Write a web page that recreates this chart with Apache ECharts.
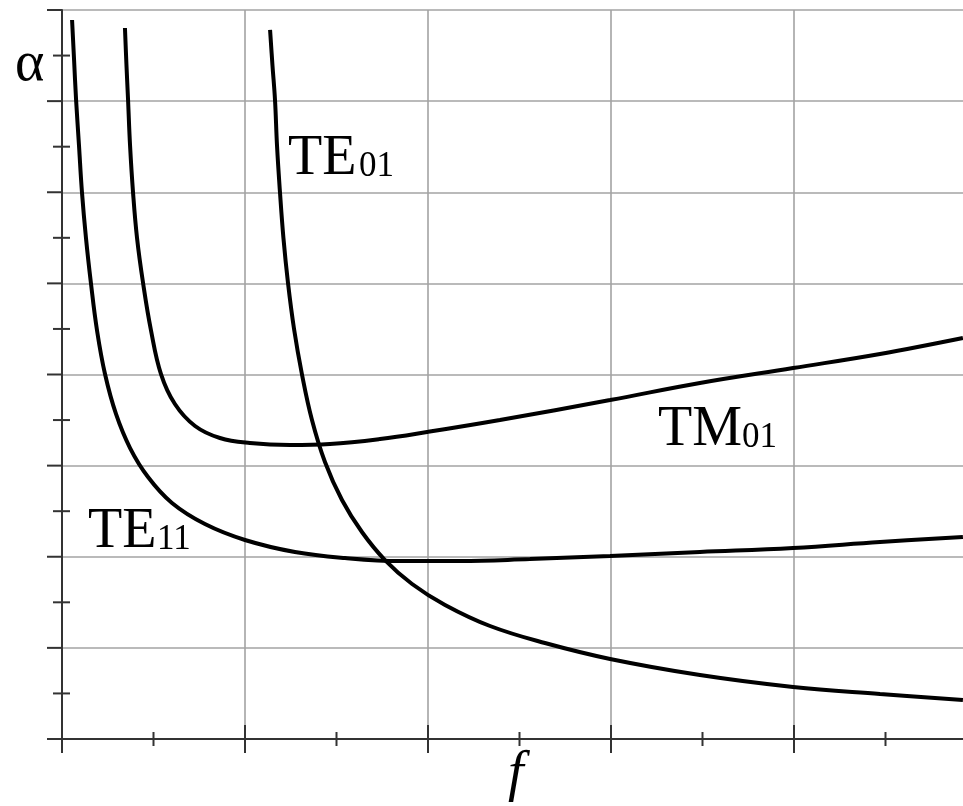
<!DOCTYPE html>
<html>
<head>
<meta charset="utf-8">
<script src="https://cdn.jsdelivr.net/npm/echarts@6/dist/echarts.min.js"></script>
<style>
html,body{margin:0;padding:0;background:#fff;overflow:hidden;}
#chart{width:977px;height:806px;}
</style>
</head>
<body>
<div id="chart"></div>
<script>
// ---- data (f and alpha in grid units) ----
const te11F = [0.055, 0.066, 0.077, 0.093, 0.109, 0.131, 0.158, 0.191, 0.235, 0.295, 0.372, 0.470, 0.601, 0.781, 1.000, 1.273, 1.546, 1.847, 2.175, 2.557, 2.995, 3.486, 3.995, 4.470, 4.923];
const te11A = [7.890, 7.451, 7.012, 6.508, 6.003, 5.498, 5.004, 4.488, 4.005, 3.567, 3.193, 2.875, 2.590, 2.359, 2.184, 2.052, 1.986, 1.953, 1.953, 1.975, 2.008, 2.052, 2.096, 2.162, 2.217];

const tm01F = [0.344, 0.352, 0.361, 0.372, 0.388, 0.410, 0.443, 0.486, 0.541, 0.617, 0.727, 0.863, 1.027, 1.246, 1.464, 1.738, 1.995, 2.393, 2.995, 3.486, 3.995, 4.470, 4.923];
const tm01A = [7.802, 7.407, 7.012, 6.508, 6.003, 5.498, 5.004, 4.488, 4.005, 3.676, 3.435, 3.303, 3.248, 3.226, 3.237, 3.292, 3.369, 3.501, 3.720, 3.907, 4.071, 4.225, 4.400];

const te01F = [1.137, 1.150, 1.164, 1.175, 1.191, 1.210, 1.235, 1.268, 1.311, 1.366, 1.437, 1.530, 1.639, 1.765, 1.913, 2.093, 2.339, 2.639, 2.995, 3.486, 3.995, 4.470, 4.923];
const te01A = [7.781, 7.396, 7.012, 6.508, 6.003, 5.498, 5.004, 4.499, 4.005, 3.501, 3.040, 2.623, 2.272, 1.964, 1.701, 1.471, 1.240, 1.053, 0.878, 0.702, 0.571, 0.494, 0.428];

// tick positions
const fMajorTicks = [0, 1, 2, 3, 4, 5];
const fMinorTicks = [0.5, 1.5, 2.5, 3.5, 4.5];
const aMajorTicks = [0, 1, 2, 3, 4, 5, 6, 7, 8];
const aMinorTicks = [0.5, 1.5, 2.5, 3.5, 4.5, 5.5, 6.5, 7.5];

const fMin = 0, fMax = 5, fStep = 1;
const aMin = 0, aMax = 8, aStep = 1;

const zip = (xs, ys) => xs.map((x, i) => [x, ys[i]]);

const serif = '"Liberation Serif", "DejaVu Serif", serif';
const gridColor = '#a3a3a3';
const axisColor = '#333';

const chart = echarts.init(document.getElementById('chart'), null, {renderer: 'canvas'});

function curve(name, data) {
  return {name, type: 'line', data, xAxisIndex: 0, yAxisIndex: 0, showSymbol: false, symbol: 'none', smooth: 0.4,
    lineStyle: {color: '#000', width: 4}, silent: true, z: 5};
}

// tick marks drawn through the axis scales; "before"/"after" = pixel extent on each side of the axis line
function ticks(values, isX, before, after) {
  return {
    type: 'custom', coordinateSystem: 'cartesian2d', xAxisIndex: 0, yAxisIndex: 0,
    clip: false, silent: true, z: 4,
    data: values.map(v => isX ? [v, aMin] : [fMin, v]),
    renderItem(params, api) {
      const p = api.coord([api.value(0), api.value(1)]);
      const shape = isX
        ? {x1: p[0], y1: p[1] - before, x2: p[0], y2: p[1] + after}
        : {x1: p[0] - before, y1: p[1], x2: p[0] + after, y2: p[1]};
      return {type: 'line', shape, style: {stroke: axisColor, lineWidth: 2}};
    }
  };
}

function txt(text, x, baseline, size, italic) {
  return {type: 'text', left: x, top: baseline - size * 0.81, z: 10,
    style: {text, fontFamily: serif, fontSize: size, fontStyle: italic ? 'italic' : 'normal', fill: '#000'}};
}
const lineStyleAxis = {color: axisColor, width: 2};

chart.setOption({
  animation: false,
  backgroundColor: '#fff',
  grid: [{left: 62, top: 10, right: 0, bottom: 67, containLabel: false}],
  xAxis: [{
    type: 'value', min: fMin, max: fMax, interval: fStep, position: 'bottom',
    axisLine: {show: true, onZero: false, lineStyle: lineStyleAxis},
    axisTick: {show: false},
    minorTick: {show: false},
    axisLabel: {show: false},
    splitLine: {show: true, lineStyle: {color: gridColor, width: 1.6}},
    minorSplitLine: {show: false}
  }],
  yAxis: [{
    type: 'value', min: aMin, max: aMax, interval: aStep, position: 'left',
    axisLine: {show: true, onZero: false, lineStyle: lineStyleAxis},
    axisTick: {show: false},
    minorTick: {show: false},
    axisLabel: {show: false},
    splitLine: {show: true, lineStyle: {color: gridColor, width: 1.6}},
    minorSplitLine: {show: false}
  }],
  series: [
    ticks(fMajorTicks, true, 14, 14),
    ticks(fMinorTicks, true, 7, 7),
    ticks(aMajorTicks, false, 15, 0),
    ticks(aMinorTicks, false, 9, 8),
    curve('TE11', zip(te11F, te11A)),
    curve('TM01', zip(tm01F, tm01A)),
    curve('TE01', zip(te01F, te01A))
  ],
  graphic: [
    txt('TE', 288, 177, 56), txt('01', 359, 178, 35),
    txt('TE', 88, 550, 56), txt('11', 157, 551, 35),
    txt('TM', 658, 448, 56), txt('01', 742, 449, 35),
    txt('α', 15, 83, 56),
    txt('f', 508, 793, 56, true)
  ]
});
</script>
</body>
</html>
